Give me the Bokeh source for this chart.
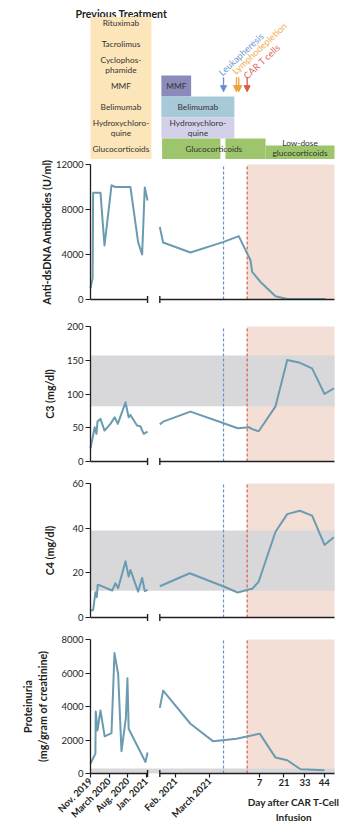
import math
from bokeh.plotting import figure
from bokeh.layouts import column
from bokeh.models import Range1d, FixedTicker, Arrow, NormalHead, LinearAxis
from bokeh.core.properties import value
from bokeh.embed import file_html
from bokeh.resources import INLINE

nan = float("nan")

# ---------------- data ----------------
# x: days relative to CAR T-cell infusion (right part); left part is a compressed calendar scale
X_LO, X_HI = -89.5, 49.9
BREAK_L, BREAK_R = -56.9, -49.9

tick_pos = [-89.5, -78.9, -68.2, -57.7, -40.8, -21.4, 7, 21, 33, 44]
tick_labels = ["Nov. 2019", "March 2020", "Aug. 2020", "Jan. 2021", "Feb. 2021", "March 2021",
               "7", "21", "33", "44"]
day_ticks = [7, 21, 33, 44]

leuk_day = -13.5
lympho_days = [-6.1, -4.8]
cart_day = 0.0

dsdna_x = [-89.5, -88.3, -88.0, -83.8, -81.5, -77.5, -75.3, -66.7, -62.3, -60.0, -58.5, -56.9, nan,
           -49.9, -48.0, -32.4, -13.4, -4.8, 1.9, 2.9, 7.6, 16.2, 22.9, 44.7]
dsdna_y = [1000, 1900, 9500, 9500, 4800, 10150, 10000, 10000, 5100, 4000, 9950, 8800, nan,
           6450, 5070, 4180, 5120, 5630, 3490, 2450, 1560, 290, 50, 50]

c3_x = [-89.5, -87.1, -86.1, -85.5, -83.8, -81.5, -78.1, -75.7, -73.9, -69.5, -67.7, -66.7, -62.9,
        -61.0, -59.1, -56.9, nan,
        -49.9, -48.0, -32.4, -13.4, -5.4, 1.3, 2.5, 6.6, 16.2, 22.9, 29.5, 37.1, 44.2, 49.5]
c3_y = [19.7, 50.7, 40.9, 59.1, 63.1, 45.8, 55.7, 65.5, 55.7, 87.7, 65.5, 69.0, 53.2,
        52.2, 41.0, 44.3, nan,
        55.0, 59.0, 73.9, 56.6, 49.2, 50.7, 48.3, 44.8, 81.7, 150.3, 146.8, 137.9, 100.0, 108.3]

c4_x = [-89.5, -88.0, -86.7, -85.9, -85.4, -83.8, -77.1, -75.3, -73.7, -69.5, -67.7, -66.7, -62.3,
        -60.0, -58.5, -56.9, nan,
        -49.9, -32.8, -13.4, -5.4, 1.9, 2.9, 6.6, 16.2, 22.9, 30.1, 37.1, 44.2, 49.5]
c4_y = [3.1, 3.4, 11.3, 9.1, 14.6, 14.3, 12.1, 15.3, 13.1, 25.2, 18.3, 21.3, 11.6,
        17.7, 11.8, 12.4, nan,
        14.0, 19.8, 13.9, 11.2, 12.8, 12.8, 16.1, 38.4, 46.3, 47.8, 45.6, 32.5, 35.9]

prot_x = [-89.5, -86.7, -86.5, -85.5, -83.8, -81.4, -77.5, -75.8, -73.7, -71.8, -69.3, -68.4, -67.7,
          -58.1, -56.9, nan,
          -49.9, -48.0, -32.4, -19.4, -6.1, 7.2, 16.2, 22.9, 30.5, 44.2]
prot_y = [594, 1190, 3700, 2570, 3760, 2220, 2410, 7190, 5940, 1330, 3300, 5690, 2670,
          690, 1250, nan,
          3920, 4950, 2970, 1920, 2080, 2380, 950, 790, 255, 196]

c3_normal = (82, 157)
c4_normal = (12, 39)
prot_normal = (0, 300)

prev_treatments = ["Rituximab", "Tacrolimus", "Cyclophos-\nphamide", "MMF", "Belimumab",
                   "Hydroxychloro-\nquine", "Glucocorticoids"]
prev_rows = [6, 5, 4, 3, 2, 1, 0]
prev_period = (-89.5, -54.7)

tx_names = ["MMF", "Belimumab", "Hydroxychloro-\nquine", "Glucocorticoids", "Glucocorticoids",
            "Low-dose\nglucocorticoids"]
tx_start = [-49.0, -49.0, -49.0, -48.6, -12.4, 10.5]
tx_end = [-32.0, -7.3, -7.3, -15.3, 10.5, 49.9]
tx_row = [3, 2, 1, 0, 0, 0]

# ---------------- style / layout ----------------
FONT = "Lato"
INK = "#231f20"
LINE = "#6b9bb0"
PINK = "#f3dfd5"
GREY = "#d8d8da"
BLUE = "#6a8fd0"
ORANGE = "#f0a13c"
RED = "#dc5a46"
BEIGE = "#fde5ba"
W = 358
AX_PX, END_PX = 90, 334            # pixel positions of X_LO and X_HI
PPU = (END_PX - AX_PX) / (X_HI - X_LO)
X_START = X_LO - AX_PX / PPU
X_END = X_HI + (W - END_PX) / PPU


def base_fig(h, y0, y1):
    p = figure(width=W, height=h, output_backend="svg", toolbar_location=None,
               x_range=Range1d(X_START, X_END), y_range=Range1d(y0, y1),
               min_border_left=0, min_border_right=0, min_border_top=0, min_border_bottom=0,
               x_axis_location=None, y_axis_location=None)
    p.outline_line_color = None
    p.grid.visible = False
    return p


# ---------------- treatment panel ----------------
TH = 159
ROW_PX = 21.0
pT = base_fig(TH, -0.5, -0.5 + TH / ROW_PX)

pT.text(x=[X_LO - 15 / PPU], y=[-0.5 + (TH - 13.5) / ROW_PX], text=["Previous Treatment"],
        text_font=value(FONT), text_font_size="10.6px", text_font_style="bold", text_color=INK,
        text_align="left", text_baseline="alphabetic")
pT.quad(left=prev_period[0], right=prev_period[1], bottom=-0.5, top=6.28,
        fill_color=BEIGE, line_color=None)
pT.text(x=[(prev_period[0] + prev_period[1]) / 2] * len(prev_treatments), y=prev_rows,
        text=prev_treatments, text_font=value(FONT), text_font_size="8.3px", text_color="#333333",
        text_align="center", text_baseline="middle", text_line_height=1.0)

tx_colors = ["#8c89bb", "#a8c9d7", "#d3d1ea", "#9dc66c", "#9dc66c", "#9dc66c"]
tx_h = [1, 1, 1, 1, 1, 0.67]
pT.quad(left=tx_start, right=tx_end, bottom=[r - 0.5 for r in tx_row],
        top=[r - 0.5 + h for r, h in zip(tx_row, tx_h)], fill_color=tx_colors, line_color=None)
lab_x = [(tx_start[i] + tx_end[i]) / 2 for i in range(3)] + [(tx_start[3] + tx_end[4]) / 2,
                                                             (tx_start[5] + tx_end[5]) / 2]
lab_y = [3, 2, 1, 0, 0.05]
lab_t = [tx_names[0], tx_names[1], tx_names[2], tx_names[3], tx_names[5]]
pT.text(x=lab_x, y=lab_y, text=lab_t, text_font=value(FONT), text_font_size="8.3px",
        text_color="#333333", text_align="center", text_baseline="middle", text_line_height=1.05)

arrow_x = [leuk_day] + lympho_days + [cart_day]
arrow_c = [BLUE, ORANGE, ORANGE, RED]
for ax_, c in zip(arrow_x, arrow_c):
    pT.add_layout(Arrow(end=NormalHead(size=6, fill_color=c, line_color=c), x_start=ax_, y_start=3.42,
                        x_end=ax_, y_end=2.73, line_color=c, line_width=1.3))
ev_text = ["Leukapheresis", "Lymphodepletion", "CAR T cells"]
ev_x = [leuk_day - 2.0, lympho_days[0] - 1.6, cart_day - 1.3]
ev_y = [3.58, 3.65, 3.42]
pT.text(x=ev_x, y=ev_y, text=ev_text, angle=math.radians(43), text_font=value(FONT),
        text_font_size="9.3px", text_color=["#6f96d3", "#f3aa52", "#e0665a"],
        text_align="left", text_baseline="alphabetic")


# ---------------- data panels ----------------
def panel(h, top_px, plot_px, ymax, ticks, band, ylabel, standoff, xs, ys):
    upp = ymax / plot_px
    p = base_fig(h, -(h - top_px - plot_px) * upp, ymax + top_px * upp)
    p.quad(left=cart_day, right=X_HI, bottom=0, top=ymax, fill_color=PINK, line_color=None)
    if band is not None:
        p.quad(left=X_LO, right=X_HI, bottom=band[0], top=band[1], fill_color=GREY, line_color=None)
    p.segment(x0=[leuk_day], x1=[leuk_day], y0=[0], y1=[ymax], line_color=BLUE,
              line_dash="3 2", line_width=1.2)
    p.segment(x0=[cart_day], x1=[cart_day], y0=[0], y1=[ymax], line_color=RED,
              line_dash="3 2", line_width=1.2)
    p.line(xs, ys, line_color=LINE, line_width=2.0, line_join="round")
    # broken x axis line
    p.segment(x0=[X_LO, BREAK_R], x1=[BREAK_L, X_HI], y0=[0, 0], y1=[0, 0],
              line_color=INK, line_width=1.4)
    p.scatter([BREAK_L, BREAK_R], [0, 0], marker="dash", angle=math.pi / 2, size=7,
              line_color=INK, line_width=1.4)
    ya = LinearAxis(fixed_location=X_LO)
    p.add_layout(ya, "left")
    ya.bounds = (0, ymax)
    ya.ticker = FixedTicker(ticks=ticks)
    ya.minor_tick_line_color = None
    ya.major_tick_in = 0
    ya.major_tick_out = 5
    ya.axis_line_color = INK
    ya.axis_line_width = 1.3
    ya.major_tick_line_color = INK
    ya.major_tick_line_width = 1.2
    ya.major_label_text_font = FONT
    ya.major_label_text_font_size = "9.5px"
    ya.major_label_text_color = INK
    ya.major_label_standoff = 2
    ya.axis_label = ylabel
    ya.axis_label_text_font = FONT
    ya.axis_label_text_font_size = "10.7px"
    ya.axis_label_text_font_style = "bold"
    ya.axis_label_text_color = INK
    ya.axis_label_standoff = standoff
    return p, upp


p1, _ = panel(161, 5, 135, 12000, [0, 4000, 8000, 12000], None,
              "Anti-dsDNA Antibodies (U/ml)", 0, dsdna_x, dsdna_y)
p2, _ = panel(157, 6, 135, 200, [0, 50, 100, 150, 200], c3_normal, "C3 (mg/dl)", 8, c3_x, c3_y)
p3, _ = panel(156, 6, 134, 60, [0, 20, 40, 60], c4_normal, "C4 (mg/dl)", 13, c4_x, c4_y)
p4, upp = panel(202, 6, 134, 8000, [0, 2000, 4000, 6000, 8000], prot_normal,
                "Proteinuria\n(mg/gram of creatinine)", 9, prot_x, prot_y)

# bottom x axis, fixed at y = 0
xa = LinearAxis(fixed_location=0)
p4.add_layout(xa, "below")
xa.ticker = FixedTicker(ticks=tick_pos)
xa.major_label_overrides = {t: (lab if t not in day_ticks else "") for t, lab in zip(tick_pos, tick_labels)}
xa.major_label_orientation = math.pi / 4
xa.axis_line_color = None
xa.minor_tick_line_color = None
xa.major_tick_in = 0
xa.major_tick_out = 4
xa.major_tick_line_color = INK
xa.major_tick_line_width = 1.2
xa.major_label_standoff = 2
xa.major_label_text_font = FONT
xa.major_label_text_font_size = "9.5px"
xa.major_label_text_font_style = "bold"
xa.major_label_text_color = INK

p4.text(x=day_ticks, y=[-5 * upp] * len(day_ticks),
        text=[tick_labels[tick_pos.index(d)] for d in day_ticks],
        text_font=value(FONT), text_font_size="9.5px", text_font_style="bold",
        text_color=INK, text_align="center", text_baseline="top")
p4.text(x=[(day_ticks[0] + day_ticks[-1]) / 2 + 1.1], y=[-22 * upp],
        text=["Day after CAR T-Cell\nInfusion"], text_font=value(FONT), text_font_size="10px",
        text_font_style="bold", text_color=INK, text_align="center",
        text_baseline="top", text_line_height=1.3)

layout = column(pT, p1, p2, p3, p4, spacing=0)
open("out.html", "w").write(file_html(layout, INLINE))
